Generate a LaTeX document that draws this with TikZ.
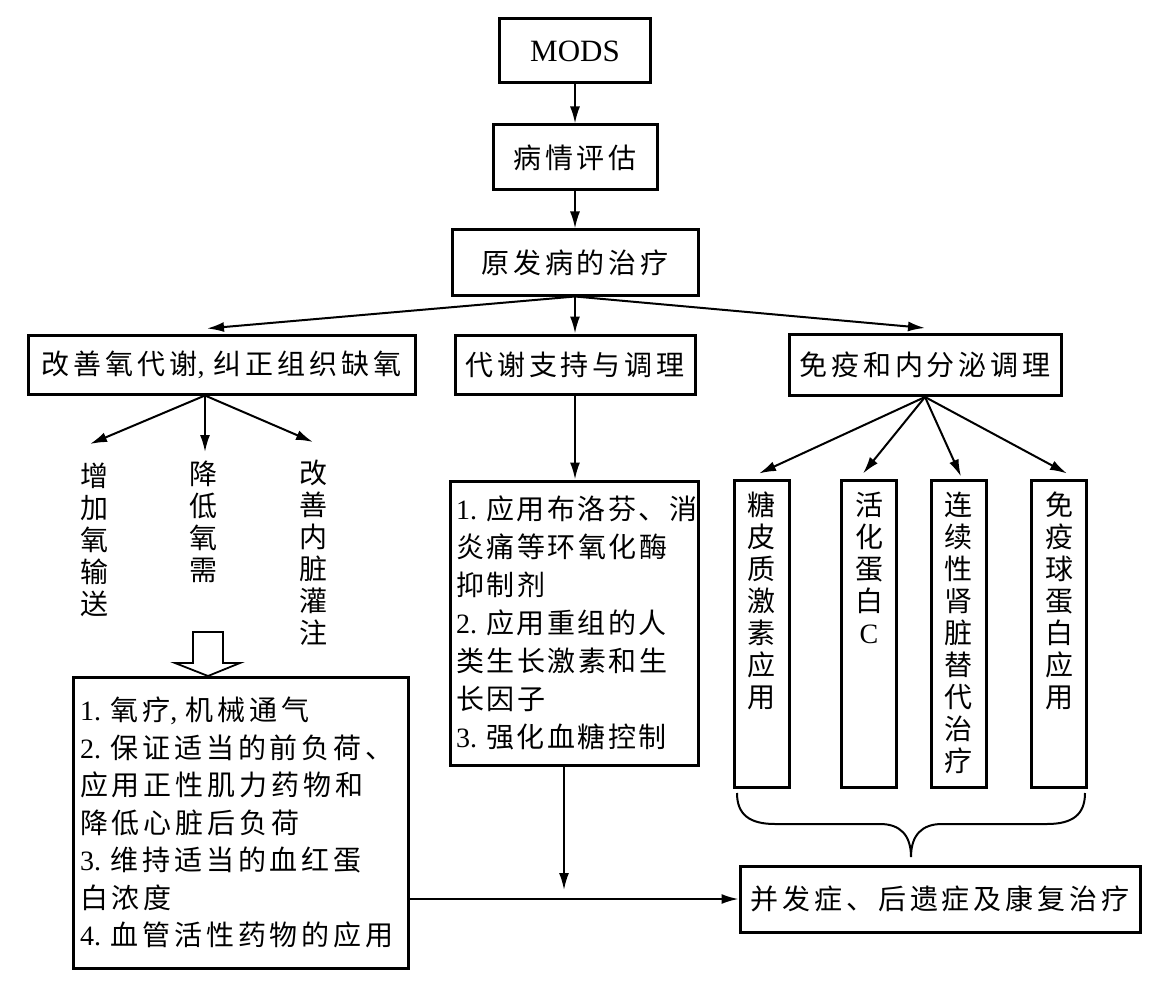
\documentclass[tikz,border=0pt]{standalone}
\usepackage{fontspec}
\setmainfont{Noto Sans CJK SC}[LetterSpace=14]
\newfontfamily\lat{Liberation Serif}
\newfontfamily\cjkv{Noto Sans CJK SC}
\newfontfamily\cjkm{Noto Sans CJK SC}[LetterSpace=9]
\usetikzlibrary{arrows.meta}
\begin{document}
\begin{tikzpicture}[x=1pt,y=-1pt,
  box/.style={draw, line width=3pt, inner sep=0pt, font=\fontsize{28}{32}\selectfont},
  listbox/.style={draw, line width=3pt, inner ysep=0pt, align=left},
  tall/.style={draw, line width=3pt, inner sep=0pt, minimum width=55pt, minimum height=307pt},
  vtext/.style={inner sep=0pt, align=center, font=\cjkv\fontsize{28}{32}\selectfont, anchor=north},
  arr/.style={line width=2pt, -{Latex[length=17pt,width=10pt]}},
  plain/.style={line width=2pt}]
\useasboundingbox (0,0) rectangle (1153,984);

% top chain
\node[box, minimum width=151pt, minimum height=64pt, font=\lat\fontsize{31}{32}\selectfont] (mods) at (575,51) {MODS};
\node[box, minimum width=164pt, minimum height=65pt] (eval) at (575,157.5) {病情评估};
\node[box, minimum width=246pt, minimum height=65pt] (prim) at (575,262.5) {原发病的治疗};
\draw[arr] (mods) -- (eval);
\draw[arr] (eval) -- (prim);

% second row
\node[box, minimum width=387pt, minimum height=59pt] (oxy) at (221.5,364.5) {改善氧代谢{\lat,}\hspace{9pt}纠正组织缺氧};
\node[box, minimum width=240pt, minimum height=59pt] (meta) at (575,364.5) {代谢支持与调理};
\node[box, minimum width=272pt, minimum height=61pt] (immu) at (925,365) {免疫和内分泌调理};
\draw[arr] (prim.south) -- ([xshift=-14.5pt,yshift=5pt]oxy.north);
\draw[arr] (prim.south) -- (meta.north);
\draw[arr] (prim.south) -- ([yshift=5pt]immu.north);

% left branch
\coordinate (fo) at ([xshift=-16.5pt]oxy.south);
\coordinate (v1) at (90,444);
\coordinate (v2) at (205,452);
\coordinate (v3) at (313,442);
\draw[arr] (fo) -- (v1);
\draw[arr] (fo) -- (v2);
\draw[arr] (fo) -- (v3);
\node[vtext] (v1t) at (94,463) {增\\加\\氧\\输\\送};
\node[vtext] (v2t) at (203,461) {降\\低\\氧\\需};
\node[vtext] (v3t) at (313,460) {改\\善\\内\\脏\\灌\\注};

% hollow arrow
\draw[line width=1.8pt, line join=miter] (193,632) -- (223,632) -- (223,663) -- (240,663) -- (208,676) -- (175,663) -- (193,663) -- cycle;

\node[listbox, inner xsep=7pt, text width=321pt, minimum height=291pt, font=\fontsize{28}{37.5}\selectfont] (left) at (240.5,822.5) {%
{\lat 1.~}氧疗{\lat,}\hspace{8pt}机械通气\\
{\lat 2.~}保证适当的前负荷、\\
应用正性肌力药物和\\
降低心脏后负荷\\
{\lat 3.~}维持适当的血红蛋\\
白浓度\\
{\lat 4.~}血管活性药物的应用};

% middle branch
\node[listbox, inner xsep=6pt, text width=236pt, minimum height=284pt, font=\cjkm\fontsize{28}{38}\selectfont] (mid) at (574,623) {%
{\lat 1.~}应用布洛芬、消\\
炎痛等环氧化酶\\
抑制剂\\
{\lat 2.~}应用重组的人\\
类生长激素和生\\
长因子\\
{\lat 3.~}强化血糖控制};
\draw[arr] (meta.south) -- (meta.south |- mid.north);

% final box
\node[box, minimum width=400pt, minimum height=66pt] (fa) at (940,899) {并发症、后遗症及康复治疗};
\coordinate (mtip) at (564,890);
\draw[arr] ([xshift=-10pt]mid.south) -- (mtip);
\draw[arr] (left.east |- fa.west) -- (fa.west);

% right branch
\node[tall] (t1) at (761.5,633.5) {};
\node[tall] (t2) at (869,633.5) {};
\node[tall] (t3) at (958.5,633.5) {};
\node[tall] (t4) at (1059,633.5) {};
\node[vtext] (t1t) at ([yshift=-13pt]t1.north) {糖\\皮\\质\\激\\素\\应\\用};
\node[vtext] (t2t) at ([yshift=-13pt]t2.north) {活\\化\\蛋\\白\\{\lat C}};
\node[vtext] (t3t) at ([yshift=-13pt]t3.north) {连\\续\\性\\肾\\脏\\替\\代\\治\\疗};
\node[vtext] (t4t) at ([yshift=-13pt]t4.north) {免\\疫\\球\\蛋\\白\\应\\用};
\draw[arr] (immu.south) -- ([xshift=-2.5pt,yshift=5pt]t1.north);
\draw[arr] (immu.south) -- ([xshift=-6pt,yshift=5pt]t2.north);
\draw[arr] (immu.south) -- ([xshift=2.5pt,yshift=2pt]t3.north);
\draw[arr] (immu.south) -- ([xshift=8pt,yshift=5pt]t4.north);

% brace
\draw[plain] (737,793) .. controls (737,815) and (750,824) .. (775,824) -- (880,824)
  .. controls (900,824) and (911,835) .. (911,857)
  .. controls (911,835) and (922,824) .. (942,824) -- (1047,824)
  .. controls (1072,824) and (1085,815) .. (1085,793);
\end{tikzpicture}
\end{document}
